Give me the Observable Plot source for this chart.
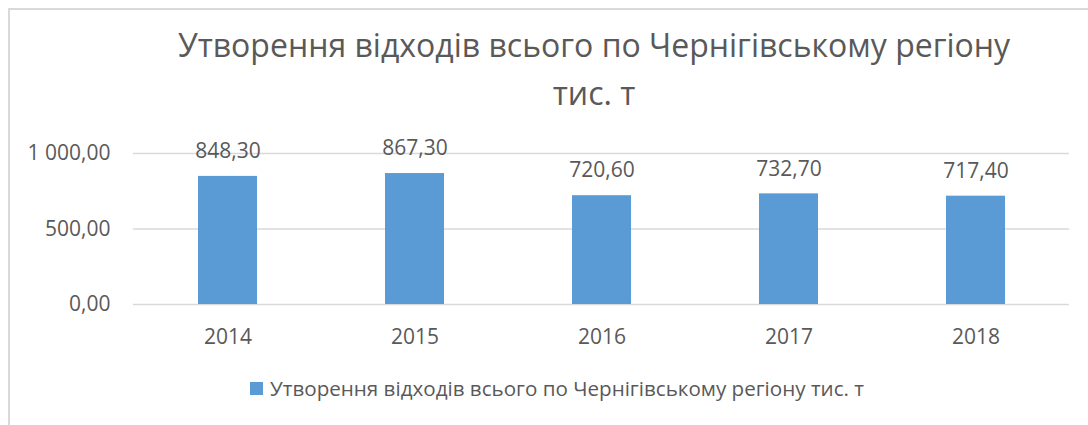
<!DOCTYPE html>
<html><head><meta charset="utf-8">
<script src="https://cdn.jsdelivr.net/npm/d3@7"></script>
<script src="https://cdn.jsdelivr.net/npm/@observablehq/plot@0.6"></script>
<style>
html,body{margin:0;padding:0;background:#fff;}
body{width:1088px;height:425px;position:relative;overflow:hidden;font-family:"Open Sans",sans-serif;color:#595959;}
#frame{position:absolute;left:8px;top:8px;width:1200px;height:500px;border-left:2px solid #d9d9d9;border-top:2px solid #d9d9d9;}
#title{position:absolute;left:0;width:1188px;top:21px;text-align:center;font-size:32px;line-height:48px;color:#595959;}
#chart{position:absolute;left:0;top:120px;}
#legend{position:absolute;left:250px;top:376px;font-size:20.6px;line-height:24px;white-space:nowrap;display:flex;align-items:center;}
#legend .sw{width:13px;height:13px;background:#5b9bd5;margin-right:7px;}
</style></head>
<body>
<div id="frame"></div>
<div id="title"></div>
<div id="chart"></div>
<div id="legend"><span class="sw"></span><span id="legtext"></span></div>
<script>
const titleLines = ["Утворення відходів всього по Чернігівському регіону", "тис. т"];
const seriesName = "Утворення відходів всього по Чернігівському регіону тис. т";
const years = ["2014", "2015", "2016", "2017", "2018"];
const values = [848.3, 867.3, 720.6, 732.7, 717.4];
const yTicks = [0, 500, 1000];

const data = years.map((y, i) => ({year: y, value: values[i]}));
const loc = d3.formatLocale({decimal: ",", thousands: " ", grouping: [3], currency: ["", ""]});
const fmt = loc.format(",.2f");

document.getElementById("title").innerHTML = titleLines.map(t => `<div>${t}</div>`).join("");
document.getElementById("legtext").textContent = seriesName;

const chart = Plot.plot({
  width: 1088,
  height: 240,
  marginLeft: 133,
  marginRight: 19,
  marginTop: 33,
  marginBottom: 56,
  style: {fontFamily: "Open Sans, sans-serif", fontSize: "21px", color: "#595959", background: "transparent"},
  x: {domain: years, paddingInner: 0.685, paddingOuter: 0.3425, label: null},
  y: {domain: [0, 1000], label: null},
  marks: [
    Plot.ruleY(yTicks, {stroke: "#d9d9d9", strokeWidth: 1.3}),
    Plot.barY(data, {x: "year", y: "value", fill: "#5b9bd5"}),
    Plot.text(data, {x: "year", y: "value", text: d => fmt(d.value), dy: -25, fontSize: 21, fill: "#595959"}),
    Plot.axisX({tickSize: 0, tickPadding: 25, fontSize: 21, fill: "#595959"}),
    Plot.axisY({ticks: yTicks, tickSize: 0, tickPadding: 23, tickFormat: fmt, fontSize: 21, fill: "#595959"})
  ]
});
document.getElementById("chart").appendChild(chart);
</script>
</body></html>
